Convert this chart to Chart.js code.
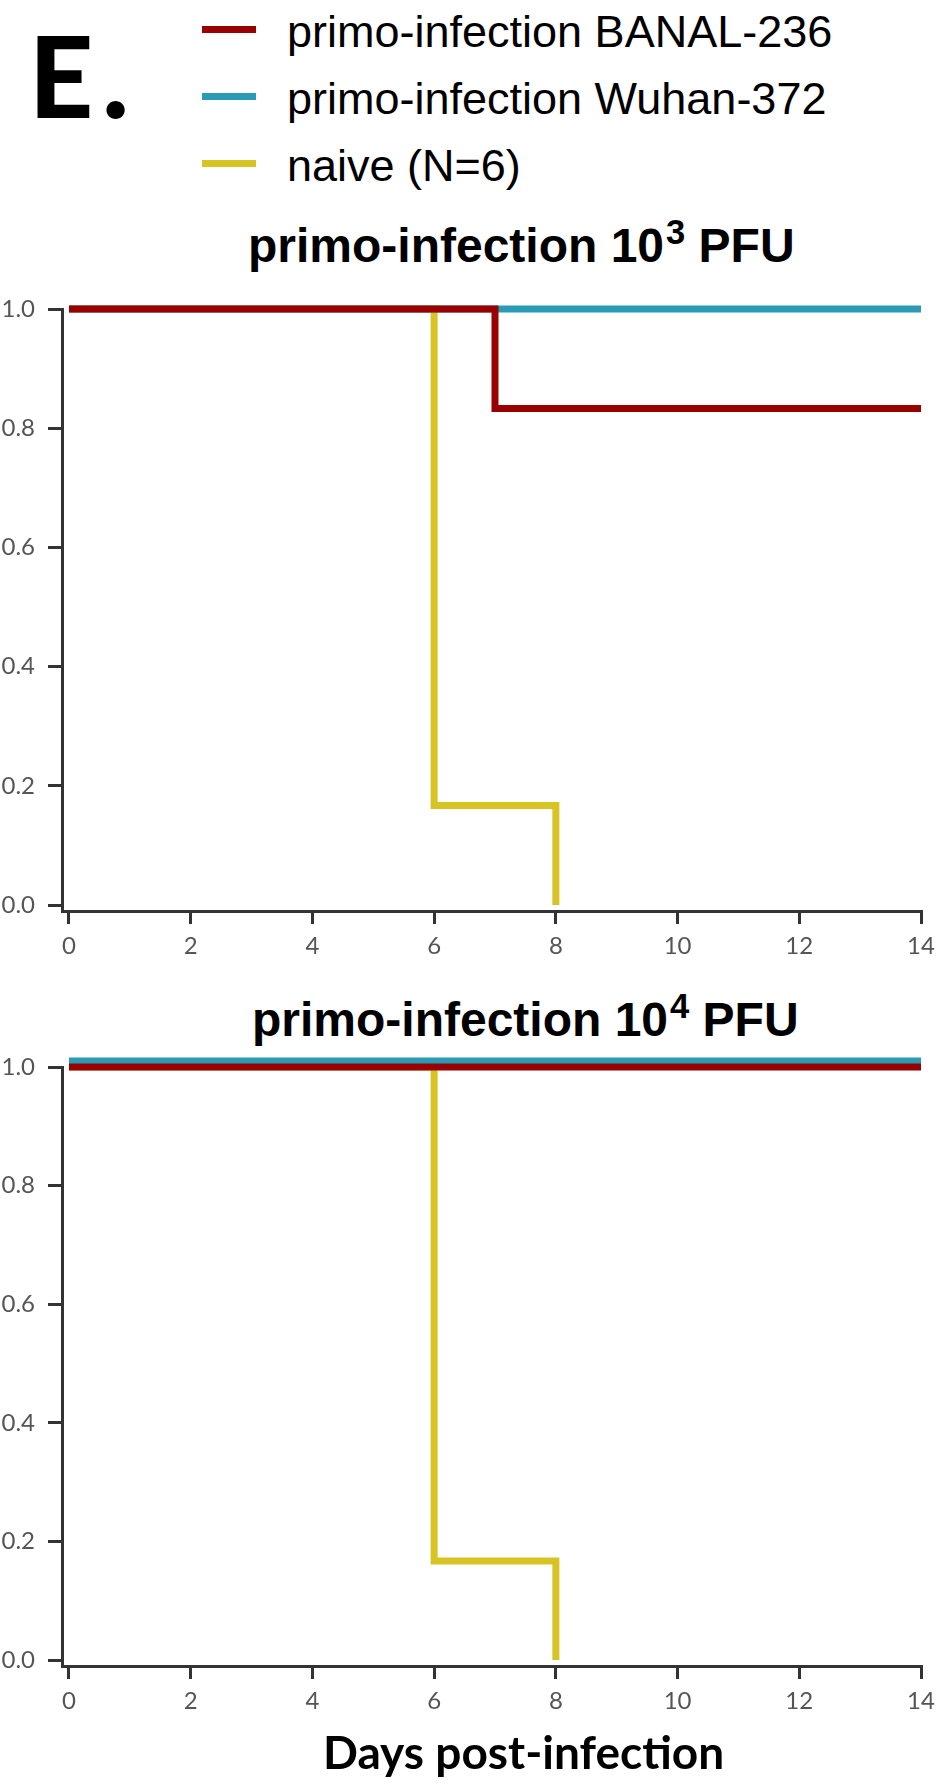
<!DOCTYPE html>
<html>
<head>
<meta charset="utf-8">
<script src="https://cdn.jsdelivr.net/npm/chart.js@4.4.1/dist/chart.umd.min.js"></script>
<style>
  html, body { margin: 0; padding: 0; background: #fff; }
  #page { position: relative; width: 951px; height: 1784px; overflow: hidden; background: #fff; }
  .txt { position: absolute; line-height: 1; white-space: nowrap; color: #000; }
  .ttl { font-family: "Liberation Sans", Arial, sans-serif; font-weight: bold; font-size: 48px; }
  .ttl sup { font-size: 0.72em; vertical-align: 18px; line-height: 0; margin-left: 2px; }
  .leg { font-family: "Liberation Sans", Arial, sans-serif; font-size: 45px; }
  .legline { position: absolute; left: 202px; width: 54px; height: 7px; }
  canvas { position: absolute; left: 0; }
</style>
</head>
<body>
<div id="page">
  <div class="txt" style="left:29px; top:19px; font-family:Lato, sans-serif; font-weight:900; font-size:112px; letter-spacing:9px;">E.</div>
  <div id="legend"></div>
  <div class="txt ttl" style="left:248px; top:222px;">primo-infection 10<sup>3</sup> PFU</div>
  <canvas id="chartLow" width="951" height="701" style="top:270px;"></canvas>
  <div class="txt ttl" style="left:252px; top:996px;">primo-infection 10<sup>4</sup> PFU</div>
  <canvas id="chartHigh" width="951" height="696" style="top:1030px;"></canvas>
  <div class="txt" style="left:323px; top:1729px; font-family:Lato, sans-serif; font-weight:bold; font-size:46px;">Days post-infection</div>
</div>
<script>
// series names and colours
const seriesNames = ['primo-infection BANAL-236', 'primo-infection Wuhan-372', 'naive (N=6)'];
const seriesColors = ['#990000', '#2a9bb4', '#d7c323'];

// axis ticks
const dayTicks = [0, 2, 4, 6, 8, 10, 12, 14];
const survTicks = [0, 0.2, 0.4, 0.6, 0.8, 1.0];

// primo-infection 10^3 PFU (survival steps)
const lowBanalDays = [0, 7, 14];
const lowBanalSurv = [1.0, 0.833, 0.833];
const lowWuhanDays = [0, 14];
const lowWuhanSurv = [1.0, 1.0];
const lowNaiveDays = [0, 6, 8];
const lowNaiveSurv = [1.0, 0.167, 0.0];

// primo-infection 10^4 PFU
const highBanalDays = [0, 14];
const highBanalSurv = [1.0, 1.0];
const highWuhanDays = [0, 14];
const highWuhanSurv = [1.01, 1.01];
const highNaiveDays = [0, 6, 8];
const highNaiveSurv = [1.0, 0.167, 0.0];

// legend built from the series
const legend = document.getElementById('legend');
seriesNames.forEach(function (name, i) {
    const line = document.createElement('div');
    line.className = 'legline';
    line.style.top = (26 + i * 67) + 'px';
    line.style.background = seriesColors[i];
    legend.appendChild(line);
    const label = document.createElement('div');
    label.className = 'txt leg';
    label.style.left = '287px';
    label.style.top = (9 + i * 67) + 'px';
    label.textContent = name;
    legend.appendChild(label);
});

function toPoints(xs, ys) {
    return xs.map(function (x, i) { return { x: x, y: ys[i] }; });
}

function makeSet(i, xs, ys) {
    return {
        label: seriesNames[i],
        data: toPoints(xs, ys),
        borderColor: seriesColors[i],
        borderWidth: 7,
        stepped: 'before',
        pointRadius: 0,
        fill: false,
        clip: false,
        borderCapStyle: 'butt',
        borderJoinStyle: 'miter'
    };
}

const axisColor = '#333333';
const tickFont = { family: 'Lato', size: 24 };

function makeChart(id, sets, padTop) {
    const ctx = document.getElementById(id).getContext('2d');
    return new Chart(ctx, {
        type: 'line',
        data: { datasets: sets },
        options: {
            responsive: false,
            animation: false,
            layout: { padding: { top: padTop, right: 30, left: 0, bottom: 0 } },
            plugins: { legend: { display: false }, tooltip: { enabled: false } },
            scales: {
                x: {
                    type: 'linear',
                    min: -0.115,
                    max: 14,
                    afterBuildTicks: function (s) { s.ticks = dayTicks.map(function (v) { return { value: v }; }); },
                    afterFit: function (s) { s.height = 60; },
                    grid: { drawOnChartArea: false, drawTicks: true, tickLength: 13, color: axisColor, lineWidth: 3 },
                    border: { display: true, color: axisColor, width: 3 },
                    ticks: { color: '#555555', font: tickFont, padding: 8, maxRotation: 0, autoSkip: false }
                },
                y: {
                    type: 'linear',
                    min: -0.01,
                    max: 1.0,
                    afterBuildTicks: function (s) { s.ticks = survTicks.map(function (v) { return { value: v }; }); },
                    afterFit: function (s) { s.width = 62; },
                    grid: { drawOnChartArea: false, drawTicks: true, tickLength: 14, color: axisColor, lineWidth: 3 },
                    border: { display: true, color: axisColor, width: 3 },
                    ticks: {
                        color: '#555555', font: tickFont, padding: 13,
                        callback: function (v) { return Number(v).toFixed(1); }
                    }
                }
            }
        }
    });
}

makeChart('chartLow', [
    makeSet(0, lowBanalDays, lowBanalSurv),
    makeSet(1, lowWuhanDays, lowWuhanSurv),
    makeSet(2, lowNaiveDays, lowNaiveSurv)
], 39);

makeChart('chartHigh', [
    makeSet(0, highBanalDays, highBanalSurv),
    makeSet(1, highWuhanDays, highWuhanSurv),
    makeSet(2, highNaiveDays, highNaiveSurv)
], 37);
</script>
</body>
</html>
